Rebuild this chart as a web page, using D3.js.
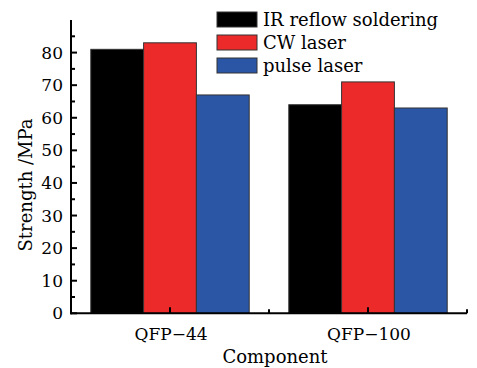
<!DOCTYPE html>
<html>
<head>
<meta charset="utf-8">
<script src="https://cdn.jsdelivr.net/npm/d3@7"></script>
<style>
body { margin: 0; background: #fff; }
text { font-family: "DejaVu Serif", serif; fill: #000; }
</style>
</head>
<body>
<div id="canvas"></div>
<script>
// DATA ------------------------------------------------------
var components = ["QFP\u221244", "QFP\u2212100"];
var methods = ["IR reflow soldering", "CW laser", "pulse laser"];
var method_colors = ["#000000", "#ed2a2a", "#2a56a5"];
var values_ir = [81, 64];
var values_cw = [83, 71];
var values_pulse = [67, 63];
var y_ticks = [0, 10, 20, 30, 40, 50, 60, 70, 80];

var series = [values_ir, values_cw, values_pulse];

// STRUCTURE -------------------------------------------------
var W = 477, H = 368;
var plot_left = 71, plot_right = 467, plot_top = 20, plot_bottom = 313.3;

var svg = d3.select("#canvas").append("svg")
  .attr("width", W)
  .attr("height", H)
  .style("background-color", "#fff");

// scales
var x0 = d3.scaleBand().domain(components).range([plot_left, plot_right]).paddingInner(0).paddingOuter(0);
var x1 = d3.scaleBand().domain(methods).range([0, x0.bandwidth() * 0.8]).padding(0);
var y = d3.scaleLinear().domain([0, 90]).range([plot_bottom, plot_top]);

// bars
var groups = svg.append("g").attr("class", "bars")
  .selectAll("g")
  .data(components)
  .enter()
  .append("g")
  .attr("transform", function (d) { return "translate(" + (x0(d) + x0.bandwidth() * 0.1) + ",0)"; });

groups.selectAll("rect")
  .data(function (d, i) { return methods.map(function (m, j) { return { m: m, j: j, v: series[j][i] }; }); })
  .enter()
  .append("rect")
  .attr("x", function (d) { return x1(d.m); })
  .attr("y", function (d) { return y(d.v); })
  .attr("width", x1.bandwidth())
  .attr("height", function (d) { return y(0) - y(d.v); })
  .style("fill", function (d) { return method_colors[d.j]; })
  .style("stroke", "#333")
  .style("stroke-width", 1);

// y axis - ticks inward
var yAxis = svg.append("g").attr("class", "y_axis");
yAxis.append("line")
  .attr("x1", plot_left).attr("x2", plot_left)
  .attr("y1", y(90)).attr("y2", plot_bottom + 1)
  .style("stroke", "#000").style("stroke-width", 2);
yAxis.selectAll(".major")
  .data(y_ticks)
  .enter().append("line")
  .attr("x1", plot_left).attr("x2", plot_left + 6)
  .attr("y1", function (d) { return y(d); })
  .attr("y2", function (d) { return y(d); })
  .style("stroke", "#000").style("stroke-width", 2);
yAxis.selectAll(".minor")
  .data(y_ticks.map(function (d) { return d + 5; }))
  .enter().append("line")
  .attr("x1", plot_left).attr("x2", plot_left + 4)
  .attr("y1", function (d) { return y(d); })
  .attr("y2", function (d) { return y(d); })
  .style("stroke", "#000").style("stroke-width", 2);
yAxis.selectAll("text")
  .data(y_ticks)
  .enter().append("text")
  .attr("x", plot_left - 8)
  .attr("y", function (d) { return y(d); })
  .attr("dy", "0.36em")
  .attr("text-anchor", "end")
  .style("font-size", "17px")
  .text(function (d) { return d; });

// x axis - ticks inward
var xAxis = svg.append("g").attr("class", "x_axis");
xAxis.append("line")
  .attr("x1", plot_left - 1).attr("x2", plot_right)
  .attr("y1", plot_bottom).attr("y2", plot_bottom)
  .style("stroke", "#000").style("stroke-width", 2);
xAxis.selectAll(".major")
  .data(components)
  .enter().append("line")
  .attr("x1", function (d) { return x0(d) + x0.bandwidth() / 2; })
  .attr("x2", function (d) { return x0(d) + x0.bandwidth() / 2; })
  .attr("y1", plot_bottom).attr("y2", plot_bottom - 6)
  .style("stroke", "#000").style("stroke-width", 2);
xAxis.selectAll(".minor")
  .data(components)
  .enter().append("line")
  .attr("x1", function (d) { return x0(d) + x0.bandwidth(); })
  .attr("x2", function (d) { return x0(d) + x0.bandwidth(); })
  .attr("y1", plot_bottom).attr("y2", plot_bottom - 4)
  .style("stroke", "#000").style("stroke-width", 2);
xAxis.selectAll("text")
  .data(components)
  .enter().append("text")
  .attr("x", function (d) { return x0(d) + x0.bandwidth() / 2 + 1; })
  .attr("y", 340)
  .attr("text-anchor", "middle")
  .style("font-size", "17px")
  .text(function (d) { return d; });

// axis titles
svg.append("text")
  .attr("x", 275)
  .attr("y", 363)
  .attr("text-anchor", "middle")
  .style("font-size", "18px")
  .text("Component");

svg.append("text")
  .attr("transform", "translate(32,185) rotate(-90)")
  .attr("text-anchor", "middle")
  .style("font-size", "18px")
  .text("Strength /MPa");

// legend
var legend = svg.append("g").attr("class", "legend")
  .selectAll("g")
  .data(methods)
  .enter().append("g")
  .attr("transform", function (d, i) { return "translate(217," + (12 + i * 23) + ")"; });
legend.append("rect")
  .attr("width", 40)
  .attr("height", 15)
  .style("fill", function (d, i) { return method_colors[i]; })
  .style("stroke", "#333")
  .style("stroke-width", 1);
legend.append("text")
  .attr("x", 46)
  .attr("y", 14)
  .style("font-size", "18px")
  .text(function (d) { return d; });
</script>
</body>
</html>
